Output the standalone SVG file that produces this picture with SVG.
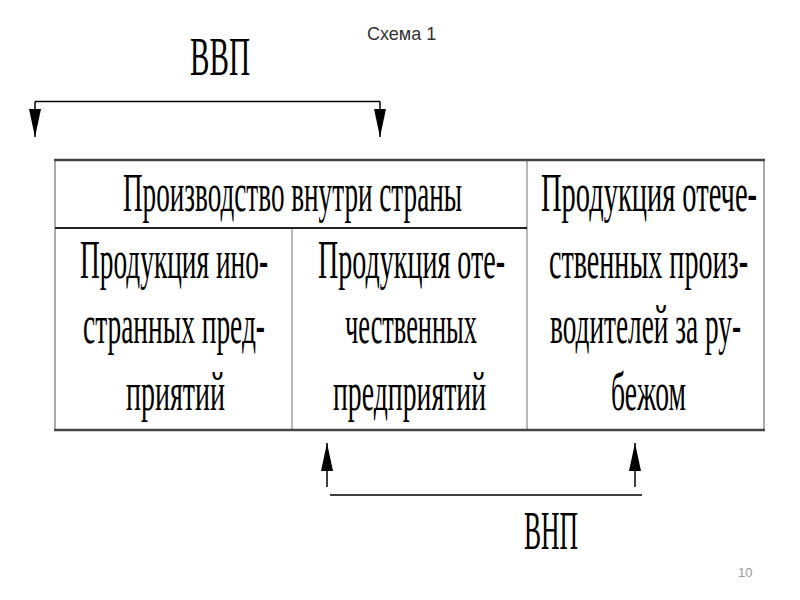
<svg xmlns="http://www.w3.org/2000/svg" width="800" height="600" viewBox="0 0 800 600">
<style>
.t{font-family:"Liberation Serif","Times New Roman",serif;font-size:54px;fill:#000}
.cap{font-family:"Liberation Sans",Arial,sans-serif;font-size:18px;fill:#333}
.pg{font-family:"Liberation Sans",Arial,sans-serif;font-size:13px;fill:#999}
.ln{stroke:#000;stroke-width:1.5;fill:none}
.hb{stroke:#444;stroke-width:2.5}
.vb{stroke:#aaa;stroke-width:2}
.vi{stroke:#888;stroke-width:1.2}
</style>
<defs>
<marker id="ah" markerUnits="userSpaceOnUse" markerWidth="28" markerHeight="12" viewBox="0 0 28 12" refX="28" refY="6" orient="auto">
<path d="M0,0 L28,6 L0,12 z" fill="#000"/>
</marker>
</defs>
<rect width="800" height="600" fill="#fff"/>
<text class="cap" x="367" y="40">Схема 1</text>
<text class="pg" x="738" y="577">10</text>

<g id="table">
<line class="vb" x1="55" y1="160" x2="55" y2="430"/>
<line class="vb" x1="764" y1="160" x2="764" y2="430"/>
<line class="vi" x1="292" y1="228" x2="292" y2="430"/>
<line class="vi" x1="527" y1="160" x2="527" y2="430"/>
<line class="hb" x1="54" y1="160" x2="765" y2="160"/>
<line class="hb" x1="54" y1="430" x2="765" y2="430"/>
<line stroke="#222" stroke-width="1.8" x1="55" y1="228" x2="527" y2="228"/>
</g>

<g id="node-domestic-production">
<text class="t" x="123" y="211" textLength="339" lengthAdjust="spacingAndGlyphs">Производство внутри страны</text>
</g>
<g id="node-foreign-firms">
<text class="t" x="80" y="278" textLength="188" lengthAdjust="spacingAndGlyphs">Продукция ино-</text>
<text class="t" x="83" y="343" textLength="182" lengthAdjust="spacingAndGlyphs">странных пред-</text>
<text class="t" x="126" y="410" textLength="99" lengthAdjust="spacingAndGlyphs">приятий</text>
</g>
<g id="node-domestic-firms">
<text class="t" x="318" y="278" textLength="187" lengthAdjust="spacingAndGlyphs">Продукция оте-</text>
<text class="t" x="345" y="343" textLength="132" lengthAdjust="spacingAndGlyphs">чественных</text>
<text class="t" x="333" y="410" textLength="153" lengthAdjust="spacingAndGlyphs">предприятий</text>
</g>
<g id="node-domestic-abroad">
<text class="t" x="541" y="211" textLength="216" lengthAdjust="spacingAndGlyphs">Продукция отече-</text>
<text class="t" x="549" y="278" textLength="199" lengthAdjust="spacingAndGlyphs">ственных произ-</text>
<text class="t" x="550" y="343" textLength="191" lengthAdjust="spacingAndGlyphs">водителей за ру-</text>
<text class="t" x="611" y="410" textLength="75" lengthAdjust="spacingAndGlyphs">бежом</text>
</g>
<g id="node-gdp">
<text class="t" x="190" y="75" textLength="60" lengthAdjust="spacingAndGlyphs">ВВП</text>
</g>
<g id="node-gnp">
<text class="t" x="524" y="549" textLength="54" lengthAdjust="spacingAndGlyphs">ВНП</text>
</g>

<g id="connectors">
<path class="ln" d="M35,101.5 H380"/>
<path class="ln" d="M35,101.5 V137" marker-end="url(#ah)"/>
<path class="ln" d="M380,101.5 V137" marker-end="url(#ah)"/>
<path class="ln" d="M330,495 H642"/>
<path class="ln" d="M327,487 V443" marker-end="url(#ah)"/>
<path class="ln" d="M635,487 V443" marker-end="url(#ah)"/>
</g>
</svg>
